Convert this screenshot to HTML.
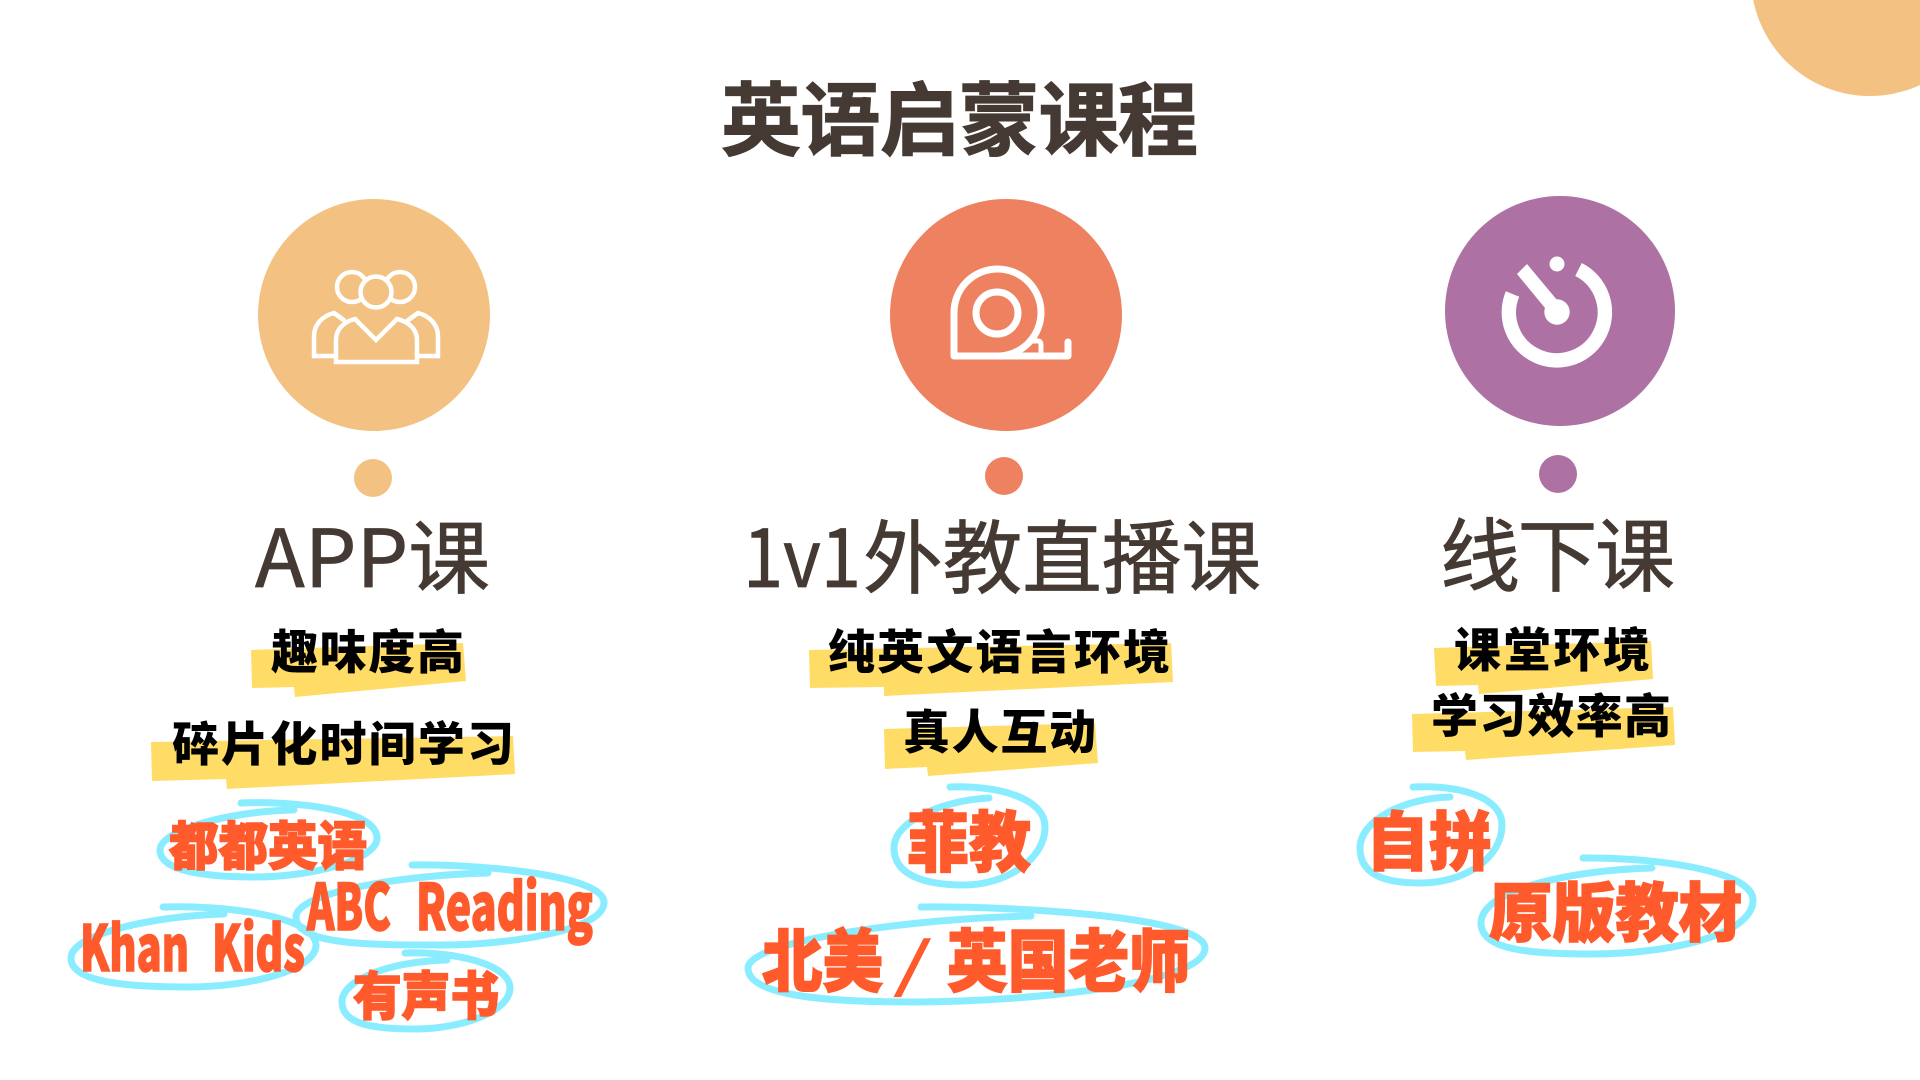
<!DOCTYPE html>
<html lang="zh">
<head>
<meta charset="utf-8">
<title>英语启蒙课程</title>
<style>
html,body{margin:0;padding:0;background:#fff;width:1920px;height:1080px;overflow:hidden}
svg{display:block}
text{font-family:"Liberation Sans","Noto Sans CJK SC",sans-serif}
.cjk{font-family:"Noto Sans CJK SC","Liberation Sans",sans-serif}
.title{font-size:80px;font-weight:700;fill:#443a33;stroke:#443a33;stroke-width:1.2px}
.head{font-size:80px;font-weight:400;fill:#443a33;stroke:#443a33;stroke-width:.8px}
.lab{font-size:47px;font-weight:900;fill:#000}
.red{font-weight:900;fill:#ff5a2b;stroke:#ff5a2b;stroke-width:1.5px}
.ell{fill:none;stroke:#8aedff;stroke-width:7;stroke-linecap:round;stroke-linejoin:round}
.ic{fill:none;stroke:#fff;stroke-width:4.5}
.ic2{fill:none;stroke:#fff;stroke-width:7;stroke-linecap:round;stroke-linejoin:round}
</style>
</head>
<body>
<svg width="1920" height="1080" viewBox="0 0 1920 1080" xmlns="http://www.w3.org/2000/svg">
<rect width="1920" height="1080" fill="#fff"/>
<circle cx="1870" cy="-23" r="119" fill="#f3c282"/>

<text class="cjk title" x="721" y="149" textLength="477" lengthAdjust="spacing">英语启蒙课程</text>

<!-- circles -->
<circle cx="374" cy="315" r="116" fill="#f3c282"/>
<circle cx="373" cy="478" r="19" fill="#f3c282"/>
<circle cx="1006" cy="315" r="116" fill="#ee8260"/>
<circle cx="1004" cy="476" r="19" fill="#ee8260"/>
<circle cx="1560" cy="311" r="115" fill="#ae71a4"/>
<circle cx="1558" cy="474" r="19" fill="#ae71a4"/>

<!-- icon 1 -->
<g class="ic">
<circle cx="352" cy="287" r="15"/>
<circle cx="400" cy="287" r="15"/>
<circle cx="376" cy="292" r="15.5" fill="#f3c282"/>
<path d="M345,321 L334,313 C322,316 314,325 314,336 V356 H336"/>
<path d="M407,321 L418,313 C430,316 438,325 438,336 V356 H417"/>
<path d="M336,362 H417 V340 C417,330 410,322 397,319 L376,340 L355,319 C343,322 336,330 336,340 Z"/>
</g>

<!-- icon 2 -->
<g class="ic2">
<path d="M954,313 A43.5,43.5 0 1 1 997,356"/>
<path d="M954,313 V356 H1068 V342"/>
<circle cx="997" cy="313" r="21"/>
<path d="M1030,341 H1038 Q1041,341 1041,345 V356" stroke-width="5"/>
</g>

<!-- icon 3 -->
<path d="M1512.5,294 A48,48 0 1 0 1578.5,269.5" fill="none" stroke="#fff" stroke-width="14.5"/>
<polygon points="1527,264 1517,274 1545,308 1557,300" fill="#fff"/>
<circle cx="1557" cy="312" r="12.7" fill="#fff"/>
<circle cx="1557" cy="264" r="7.5" fill="#fff"/>

<!-- headings -->
<text class="cjk head" x="255" y="587" textLength="235" lengthAdjust="spacingAndGlyphs">APP课</text>
<text class="cjk head" x="743" y="587" textLength="118" lengthAdjust="spacingAndGlyphs">1v1</text>
<text class="cjk head" x="863" y="587" textLength="398" lengthAdjust="spacingAndGlyphs">外教直播课</text>
<text class="cjk head" x="1440" y="585" textLength="235" lengthAdjust="spacing">线下课</text>

<!-- yellow highlights -->
<g fill="#ffdc66">
<polygon points="251,650 463,643 466,681 295,697 294,687 252,688"/>
<polygon points="151,742 513,736 515,774 227,789 226,779 152,781"/>
<polygon points="809,650 1171,643 1173,682 884,696 884,687 810,688"/>
<polygon points="884,729 1095,723 1098,763 928,776 927,767 885,769"/>
<polygon points="1434,648 1651,641 1653,679 1479,694 1478,685 1436,686"/>
<polygon points="1412,714 1673,707 1675,745 1466,760 1465,751 1413,752"/>
</g>

<!-- black labels -->
<text class="cjk lab" x="271" y="669" textLength="193" lengthAdjust="spacing">趣味度高</text>
<text class="cjk lab" x="172" y="761" textLength="342" lengthAdjust="spacing">碎片化时间学习</text>
<text class="cjk lab" x="828" y="669" textLength="342" lengthAdjust="spacing">纯英文语言环境</text>
<text class="cjk lab" x="903" y="749" textLength="193" lengthAdjust="spacing">真人互动</text>
<text class="cjk lab" x="1454" y="667" textLength="196" lengthAdjust="spacing">课堂环境</text>
<text class="cjk lab" x="1431" y="733" textLength="240" lengthAdjust="spacing">学习效率高</text>

<!-- hand-drawn ellipses -->
<g class="ell">
<path d="M241,803 C290,801 374,808 377,837 C379,860 310,877 255,877 C200,877 160,870 160,850 C160,830 230,811 294,810"/>
<path d="M412,865 C480,864 603,875 604,902 C605,930 510,945 441,945 C370,945 296,945 296,917 C296,893 400,875 488,873"/>
<path d="M163,907 C220,905 315,915 316,945 C316,970 250,987 188,987 C130,987 71,983 71,958 C71,935 150,916 224,914"/>
<path d="M405,953 C450,951 510,963 510,988 C510,1012 460,1029 416,1029 C375,1029 342,1025 342,1002 C342,978 395,961 447,960"/>
<path d="M950,787 C995,785 1045,797 1045,827 C1045,860 1005,885 964,885 C920,885 894,873 894,848 C894,820 945,800 989,798"/>
<path d="M921,907 C1010,906 1205,916 1205,948 C1205,985 1020,1002 914,1002 C820,1002 748,995 748,968 C748,940 920,918 1031,916"/>
<path d="M1413,787 C1460,785 1502,797 1502,825 C1502,858 1465,883 1420,883 C1385,883 1360,875 1360,848 C1360,820 1405,798 1450,797"/>
<path d="M1583,858 C1650,857 1753,870 1753,900 C1753,935 1670,954 1590,954 C1530,954 1481,950 1481,923 C1481,890 1570,870 1652,868"/>
</g>

<!-- red labels -->
<text class="cjk red" x="169" y="865" font-size="52" textLength="198" lengthAdjust="spacingAndGlyphs">都都英语</text>
<text class="cjk red" x="307" y="930" font-size="64" textLength="84" lengthAdjust="spacingAndGlyphs">ABC</text>
<text class="cjk red" x="416" y="930" font-size="64" textLength="177" lengthAdjust="spacingAndGlyphs">Reading</text>
<text class="cjk red" x="80" y="971" font-size="63" textLength="109" lengthAdjust="spacingAndGlyphs">Khan</text>
<text class="cjk red" x="212" y="971" font-size="63" textLength="93" lengthAdjust="spacingAndGlyphs">Kids</text>
<text class="cjk red" x="353" y="1015" font-size="52" textLength="146" lengthAdjust="spacingAndGlyphs">有声书</text>
<text class="cjk red" x="907" y="866" font-size="66" textLength="124" lengthAdjust="spacingAndGlyphs">菲教</text>
<text class="cjk red" x="762" y="986" font-size="68" textLength="121" lengthAdjust="spacingAndGlyphs">北美</text>
<text class="cjk red" x="893" y="986" font-size="60" font-weight="400" style="font-weight:400;stroke-width:.5px" textLength="39" lengthAdjust="spacingAndGlyphs">/</text>
<text class="cjk red" x="947" y="986" font-size="68" textLength="243" lengthAdjust="spacingAndGlyphs">英国老师</text>
<text class="cjk red" x="1366" y="865" font-size="64" textLength="126" lengthAdjust="spacingAndGlyphs">自拼</text>
<text class="cjk red" x="1489" y="936" font-size="64" textLength="253" lengthAdjust="spacingAndGlyphs">原版教材</text>
</svg>
</body>
</html>
